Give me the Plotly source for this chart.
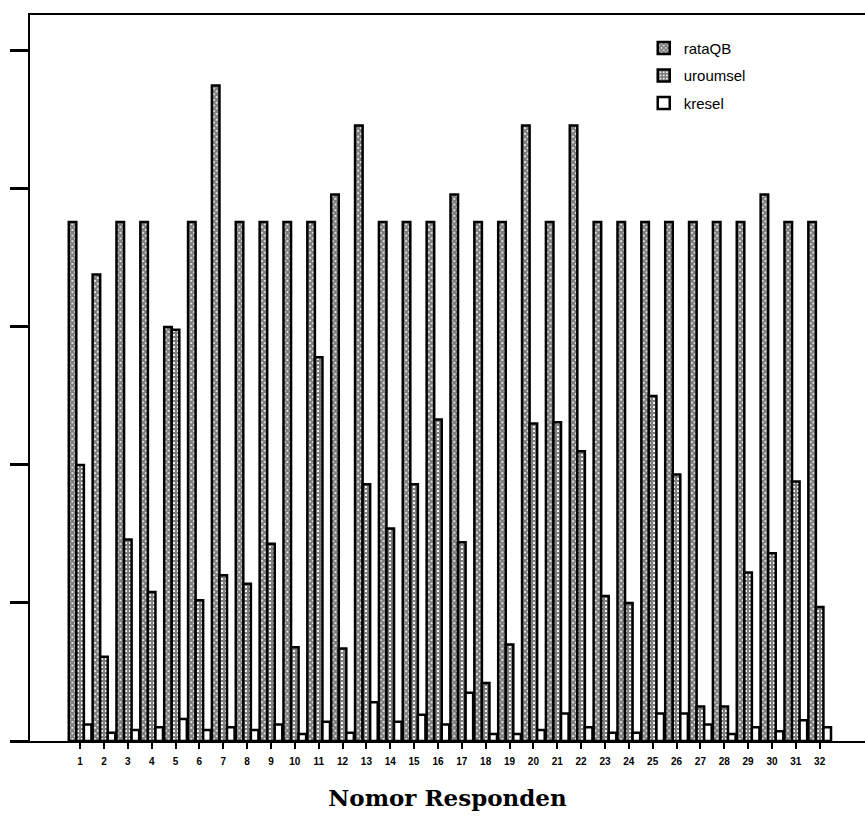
import plotly.graph_objects as go

responden = list(range(1, 33))
tick_labels = [str(i) for i in responden]

rataQB = [3.76, 3.38, 3.76, 3.76, 3.00, 3.76, 4.75, 3.76, 3.76, 3.76, 3.76, 3.96, 4.46, 3.76, 3.76, 3.76,
          3.96, 3.76, 3.76, 4.46, 3.76, 4.46, 3.76, 3.76, 3.76, 3.76, 3.76, 3.76, 3.76, 3.96, 3.76, 3.76]
uroumsel = [2.00, 0.61, 1.46, 1.08, 2.98, 1.02, 1.20, 1.14, 1.43, 0.68, 2.78, 0.67, 1.86, 1.54, 1.86, 2.33,
            1.44, 0.42, 0.70, 2.30, 2.31, 2.10, 1.05, 1.00, 2.50, 1.93, 0.25, 0.25, 1.22, 1.36, 1.88, 0.97]
kresel = [0.12, 0.06, 0.08, 0.10, 0.16, 0.08, 0.10, 0.08, 0.12, 0.05, 0.14, 0.06, 0.28, 0.14, 0.19, 0.12,
          0.35, 0.05, 0.05, 0.08, 0.20, 0.10, 0.06, 0.06, 0.20, 0.20, 0.12, 0.05, 0.10, 0.07, 0.15, 0.10]

fig = go.Figure()
fig.add_trace(go.Bar(
    x=responden, y=rataQB, name="rataQB", legendgroup="a",
    marker=dict(color="white", line=dict(color="black", width=2.5),
                pattern=dict(shape="x", fgcolor="black", bgcolor="white", size=4, solidity=0.8)),
))
fig.add_trace(go.Bar(
    x=responden, y=uroumsel, name="uroumsel", legendgroup="b",
    marker=dict(color="white", line=dict(color="black", width=2.5),
                pattern=dict(shape="+", fgcolor="black", bgcolor="white", size=4, solidity=0.8)),
))
fig.add_trace(go.Bar(
    x=responden, y=kresel, name="kresel", legendgroup="c",
    marker=dict(color="white", line=dict(color="black", width=2.5)),
))

fig.update_layout(
    width=865, height=817,
    margin=dict(l=30, r=0, t=15, b=76),
    paper_bgcolor="white", plot_bgcolor="white",
    barmode="group", bargap=0.05, bargroupgap=0.0,
    font=dict(family="Liberation Sans, Arial", color="black"),
    legend=dict(x=0.735, y=0.977, xanchor="left", yanchor="top",
                font=dict(size=15, family="Liberation Sans, Arial", color="black"),
                bgcolor="rgba(0,0,0,0)", tracegroupgap=5, traceorder="grouped"),
    xaxis=dict(
        range=[-1.1, 33.9], tickmode="array", tickvals=responden, ticktext=tick_labels,
        ticks="outside", ticklen=6, tickwidth=2, tickcolor="black", ticklabelstandoff=4,
        tickfont=dict(size=10, family="Liberation Sans, Arial", color="black", weight="bold"),
        showline=True, linecolor="black", linewidth=2, mirror=True,
        showgrid=False, zeroline=False,
        title=dict(text="<b>Nomor Responden</b>", standoff=24,
                   font=dict(size=23, family="DejaVu Serif, Liberation Serif", color="black")),
    ),
    yaxis=dict(
        range=[0, 5.26], tickmode="array", tickvals=[0, 1, 2, 3, 4, 5],
        showticklabels=False, ticks="outside", ticklen=18, tickwidth=3, tickcolor="black",
        showline=True, linecolor="black", linewidth=2, mirror=False,
        showgrid=False, zeroline=False,
    ),
)

fig.write_html("out.html")
